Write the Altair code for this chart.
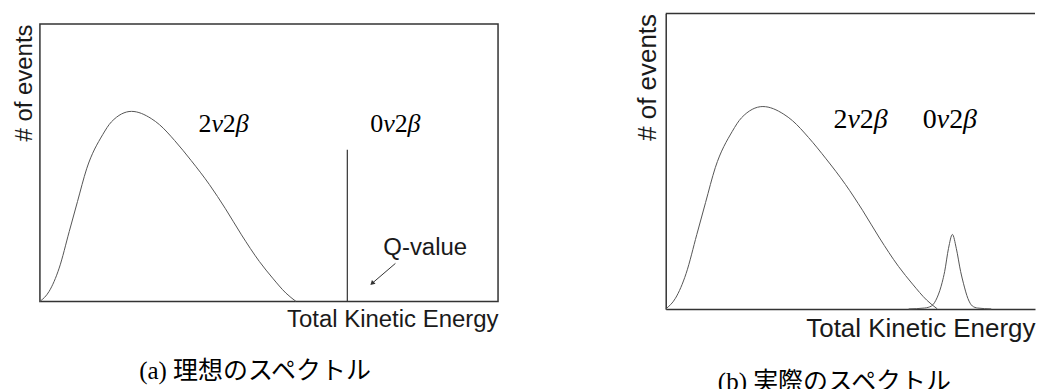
import altair as alt
import pandas as pd

SANS = "Liberation Sans"
SERIF = "Liberation Serif"
CAPTION_FONT = "Liberation Serif, 'Noto Sans CJK JP'"
INK = "#1a1a1a"
FRAME = "#333333"
CURVE = "#555555"

# 2νββ continuum (same shape in both panels), arbitrary units
energy_2v = [0, 2.0, 4.2, 6.4, 8.2, 10.2, 13.7, 15.6, 20.0, 24.3, 26.1, 29.4,
             33.0, 37.0, 40.5, 44.0, 47.9, 50.8, 53.7, 55.9]
counts_2v = [0, 3.6, 12.0, 25.2, 36.0, 47.8, 60.1, 64.7, 68.5, 65.9, 63.7, 58.0,
             50.8, 42.1, 33.4, 24.0, 14.4, 8.4, 3.0, 0]

# ideal 0νββ signal: a single line at the Q-value
q_value = 67.1
line_height = 54.7

# measured 0νββ signal: peak broadened by the energy resolution
energy_0v = [50, 53.3, 54.7, 55.9, 56.9, 57.4, 58.2, 59.0, 59.8, 60.7, 61.3,
             62.2, 63.1, 64.2, 67]
counts_0v = [0, 0.3, 1.0, 4.0, 9.0, 12.6, 20.5, 25.2, 20.5, 12.6, 8.5,
             3.5, 1.0, 0.3, 0]

# annotation anchors (energy, counts)
label_leads = ["2", "0"]
label_energy_a = [40.1, 77.6]
label_energy_b = [40.1, 58.5]
label_counts = 61.2
qlabel_energy, qlabel_counts = 84.1, 19.1
arrow_energy = [77.6, 72.5]
arrow_counts = [13.7, 6.5]

Y_MAX = 100
X_MAX_A = 100
X_MAX_B = 76


def axes(x_max, sans_size, x_pad, y_pad, domain):
    x_axis = alt.Axis(title="Total Kinetic Energy", labels=False, ticks=False,
                      grid=False, domain=domain, domainColor=FRAME, domainWidth=1.5,
                      titleFont=SANS, titleFontSize=sans_size, titleFontWeight="normal",
                      titleColor=INK, titleAnchor="end", titlePadding=x_pad)
    y_axis = alt.Axis(title="# of events", labels=False, ticks=False,
                      grid=False, domain=domain, domainColor=FRAME, domainWidth=1.5,
                      titleFont=SANS, titleFontSize=sans_size, titleFontWeight="normal",
                      titleColor=INK, titleAnchor="end", titlePadding=y_pad)
    x = alt.X("energy:Q", scale=alt.Scale(domain=[0, x_max], nice=False, zero=False),
              axis=x_axis)
    y = alt.Y("counts:Q", scale=alt.Scale(domain=[0, Y_MAX], nice=False), axis=y_axis)
    return x, y


def decay_labels(energies, size, x, y):
    df = pd.DataFrame({"energy": energies, "counts": [label_counts] * len(energies),
                       "lead": label_leads})
    base = alt.Chart(df).encode(x=x, y=y)
    # lead digit, ν, 2, β laid out left to right around the anchor
    parts = [(None, "normal", -0.97), ("ν", "italic", -0.47),
             ("2", "normal", -0.03), ("β", "italic", 0.47)]
    layers = []
    for txt, style, off in parts:
        m = base.mark_text(font=SERIF, fontSize=size, fontStyle=style, align="left",
                           baseline="alphabetic", dx=off * size, color="black")
        layers.append(m.encode(text="lead:N") if txt is None else m.encode(text=alt.value(txt)))
    return layers


spectrum = pd.DataFrame({"energy": energy_2v, "counts": counts_2v})

# ---- (a) ideal spectrum ----
xa, ya = axes(X_MAX_A, 24, 6, 3, False)
curve_a = alt.Chart(spectrum).mark_line(color=CURVE, strokeWidth=1,
                                        interpolate="monotone").encode(x=xa, y=ya)
qline = alt.Chart(pd.DataFrame({"energy": [q_value], "counts": [0],
                                "top": [line_height]})).mark_rule(
    color=FRAME, strokeWidth=1.2).encode(x=xa, y=ya, y2="top:Q")
arrow_df = pd.DataFrame({"energy": arrow_energy, "counts": arrow_counts})
arrow_shaft = alt.Chart(arrow_df).mark_line(color=FRAME, strokeWidth=1).encode(x=xa, y=ya)
arrow_head = alt.Chart(arrow_df.iloc[[1]]).mark_point(
    shape="triangle-up", angle=227, size=28, filled=True, color=FRAME, opacity=1
).encode(x=xa, y=ya)
qtext = alt.Chart(pd.DataFrame({"energy": [qlabel_energy], "counts": [qlabel_counts]})).mark_text(
    text="Q-value", font=SANS, fontSize=24, color=INK, align="center", baseline="middle"
).encode(x=xa, y=ya)

panel_a = alt.layer(curve_a, qline, arrow_shaft, arrow_head, qtext,
                    *decay_labels(label_energy_a, 26, xa, ya)).properties(
    width=459, height=278,
    title=alt.TitleParams(text="(a) 理想のスペクトル", orient="bottom", anchor="middle",
                          frame="group", dx=-14, offset=28, font=CAPTION_FONT,
                          fontSize=25, fontWeight="normal", color="black"))

# ---- (b) measured spectrum ----
xb, yb = axes(X_MAX_B, 26, 7, 5, True)
curve_b = alt.Chart(spectrum).mark_line(color=CURVE, strokeWidth=1,
                                        interpolate="monotone").encode(x=xb, y=yb)
peak_b = alt.Chart(pd.DataFrame({"energy": energy_0v, "counts": counts_0v})).mark_line(
    color=CURVE, strokeWidth=1, interpolate="monotone").encode(x=xb, y=yb)
top_b = alt.Chart(pd.DataFrame({"counts": [Y_MAX]})).mark_rule(
    color=FRAME, strokeWidth=1.5).encode(y=yb)

panel_b = alt.layer(curve_b, peak_b, top_b,
                    *decay_labels(label_energy_b, 28, xb, yb)).properties(
    width=370, height=296,
    view=alt.ViewBackground(stroke="transparent"),
    title=alt.TitleParams(text="(b) 実際のスペクトル", orient="bottom", anchor="middle",
                          frame="group", dx=-16, offset=28, font=CAPTION_FONT,
                          fontSize=25, fontWeight="normal", color="black"))

chart = alt.hconcat(panel_a, panel_b, spacing=135, center=True).properties(
    padding={"left": 12, "top": 11, "right": 0, "bottom": 0},
    background="white",
).configure_view(stroke=FRAME, strokeWidth=1.5)

chart.save("out.html", embed_options={"renderer": "svg", "actions": False})
